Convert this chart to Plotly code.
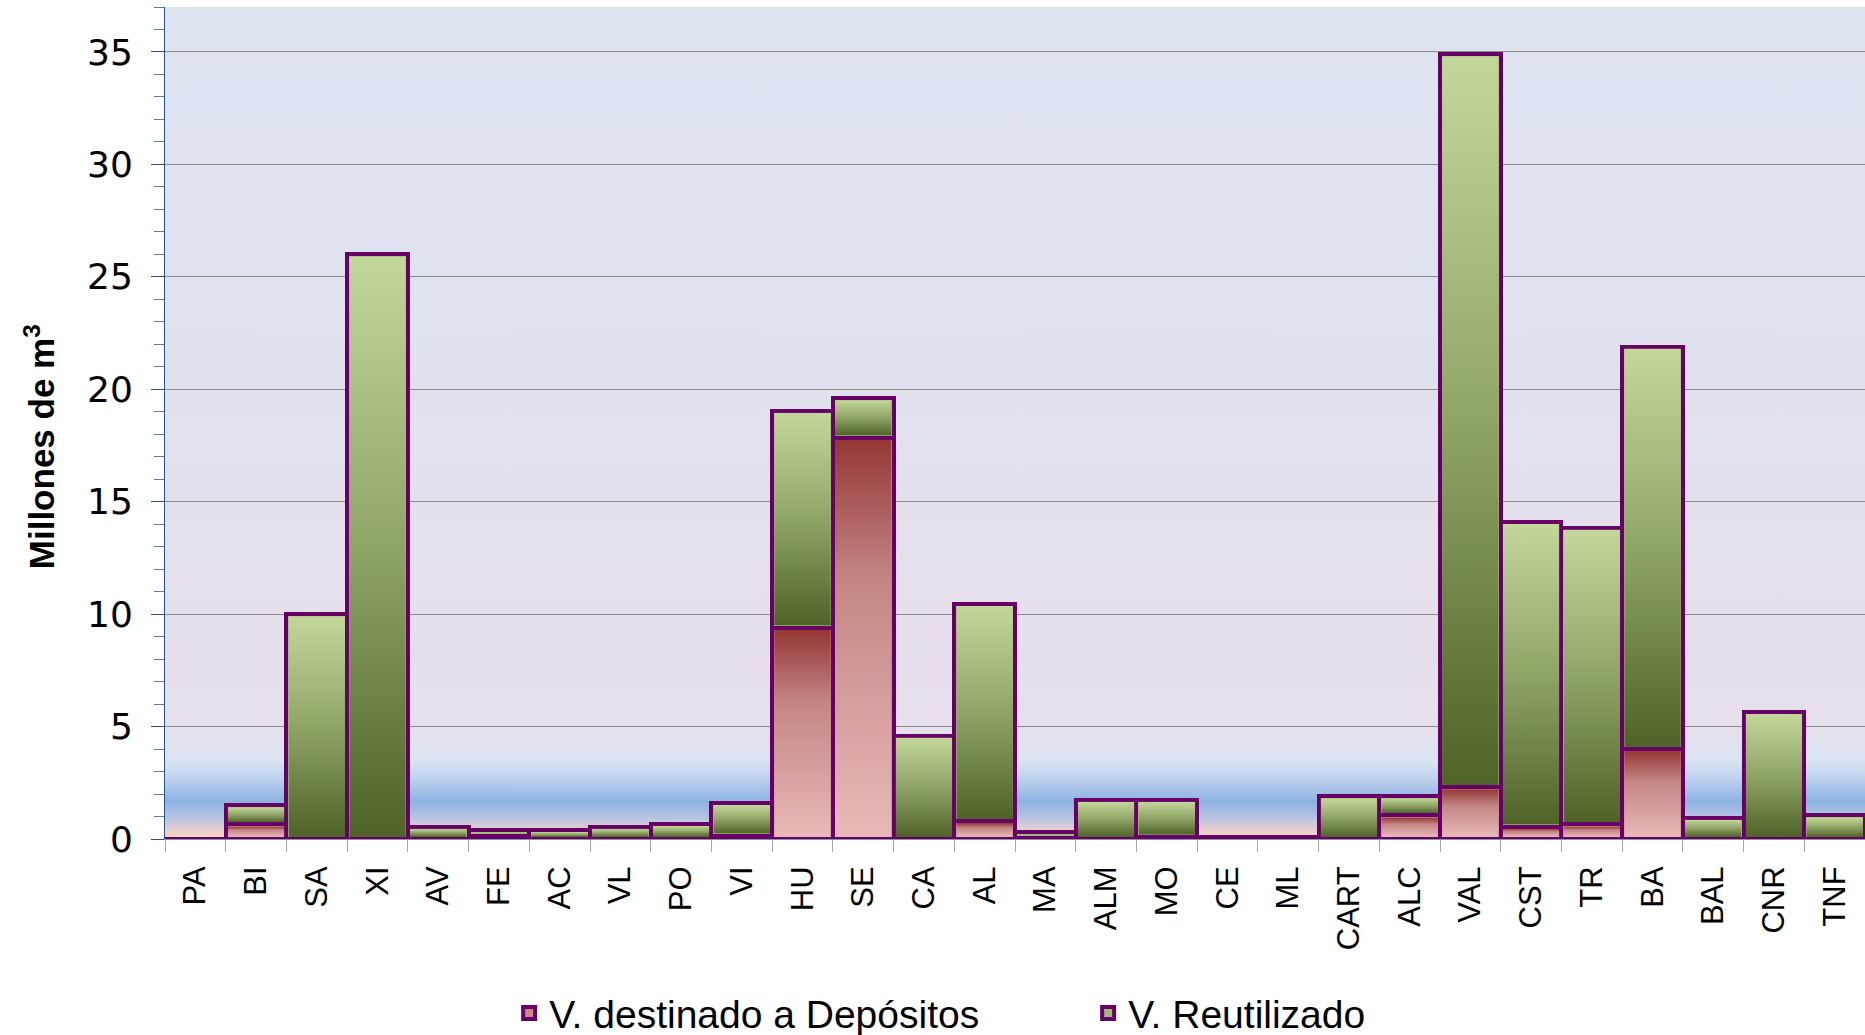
import base64

import plotly.graph_objects as go


categories = ["PA", "BI", "SA", "XI", "AV", "FE", "AC", "VL", "PO", "VI",
              "HU", "SE", "CA", "AL", "MA", "ALM", "MO", "CE", "ML", "CART",
              "ALC", "VAL", "CST", "TR", "BA", "BAL", "CNR", "TNF"]

# millones de m3
deposit = [0, 0.65, 0, 0, 0, 0.15, 0, 0, 0, 0.15,
           9.4, 17.85, 0, 0.8, 0.05, 0, 0.1, 0, 0, 0,
           1.05, 2.3, 0.55, 0.65, 4.0, 0, 0, 0]
reused = [0, 0.85, 10.0, 26.0, 0.55, 0.25, 0.4, 0.55, 0.67, 1.45,
          9.65, 1.75, 4.6, 9.65, 0.25, 1.75, 1.65, 0.1, 0.1, 1.9,
          0.85, 32.6, 13.55, 13.2, 17.9, 0.95, 5.65, 1.05]

series_names = ["V. destinado a Depósitos", "V. Reutilizado"]

y_max = 37
outline = "#660066"


def gradient_uri(stops):
    """SVG vertical gradient as a data uri, stops = [(offset, colour), ...]"""
    stop_tags = "".join('<stop offset="{0}" stop-color="{1}"/>'.format(o, c) for o, c in stops)
    svg = ('<svg xmlns="http://www.w3.org/2000/svg" width="10" height="100" viewBox="0 0 10 100" '
           'preserveAspectRatio="none"><defs><linearGradient id="g" x1="0" y1="0" x2="0" y2="1">'
           + stop_tags + '</linearGradient></defs><rect width="10" height="100" fill="url(#g)"/></svg>')
    return "data:image/svg+xml;base64," + base64.b64encode(svg.encode()).decode()


green_fill = gradient_uri([(0, "#c4d79b"), (0.5, "#8fa566"), (1, "#4f6228")])
red_fill = gradient_uri([(0, "#953735"), (0.35, "#c38684"), (1, "#e8b9b8")])

bg_fill = gradient_uri([(0, "#dce4f0"), (0.46, "#e1e1ee"), (0.78, "#e6dfeb"),
                        (0.865, "#e6e0ec"), (0.905, "#dbe4f1"), (0.925, "#c2d4ee"),
                        (0.955, "#8db3e2"), (0.974, "#b5c3e3"), (0.989, "#e6cfd0"),
                        (1, "#fad5b4")])

fig = go.Figure()

fig.add_trace(go.Bar(x=categories, y=deposit, name=series_names[0],
                     marker=dict(color="#c98a89", line=dict(color=outline, width=4))))
fig.add_trace(go.Bar(x=categories, y=reused, name=series_names[1],
                     marker=dict(color="#a3ba78", line=dict(color=outline, width=4))))

# gradient fill inside every bar segment (inset so the outline stays visible)
inset_x = 0.034
inset_y = 0.09
images = [dict(source=bg_fill, xref="paper", yref="paper", x=0, y=1, sizex=1, sizey=1,
               sizing="stretch", layer="below", xanchor="left", yanchor="top")]
for i in range(len(categories)):
    base = 0.0
    for value, src in ((deposit[i], red_fill), (reused[i], green_fill)):
        if value > 3 * inset_y:
            images.append(dict(source=src, xref="x", yref="y",
                               x=i - 0.5 + inset_x, y=base + value - inset_y,
                               sizex=1 - 2 * inset_x, sizey=value - 2 * inset_y,
                               sizing="stretch", layer="above",
                               xanchor="left", yanchor="top"))
        base += value

fig.update_layout(
    width=1865, height=1035,
    barmode="stack", bargap=0,
    images=images,
    paper_bgcolor="white", plot_bgcolor="rgba(0,0,0,0)",
    margin=dict(l=165, r=0, t=7, b=196, autoexpand=False),
    font=dict(family="Liberation Sans", color="black"),
    legend=dict(orientation="h", x=0.273, xanchor="left", xref="container",
                y=0.021, yanchor="middle", yref="container", traceorder="normal",
                font=dict(family="Liberation Sans", size=39), entrywidth=534),
)

# y axis title
fig.add_annotation(text="Millones de m<sup>3</sup>", xref="paper", yref="paper",
                   x=-0.0877, y=0.472, textangle=-90, showarrow=False,
                   font=dict(family="Liberation Sans", size=35, weight="bold"))

fig.update_yaxes(range=[0, y_max], dtick=5, showgrid=True, gridcolor="#8c8c8c", gridwidth=1,
                 showline=True, linecolor="#2a5185", linewidth=1,
                 ticks="outside", ticklen=13, tickcolor="#2a5185",
                 minor=dict(dtick=1, ticks="outside", ticklen=10, tickcolor="#5a7fa8", showgrid=False),
                 tickfont=dict(family="DejaVu Sans", size=36), ticklabelstandoff=11,
                 zeroline=False, automargin=False)

fig.update_xaxes(tickangle=-90, tickson="boundaries", ticks="outside", ticklen=12,
                 tickcolor="#a6a6a6", showline=True, linecolor="#8f8fa8", linewidth=1,
                 tickfont=dict(family="Liberation Sans", size=31), ticklabelstandoff=14,
                 range=[-0.5, len(categories) - 0.5], automargin=False)

fig.write_html("out.html", config={"displayModeBar": False},
               post_script="document.body.style.margin='0';document.body.style.overflow='hidden';")
